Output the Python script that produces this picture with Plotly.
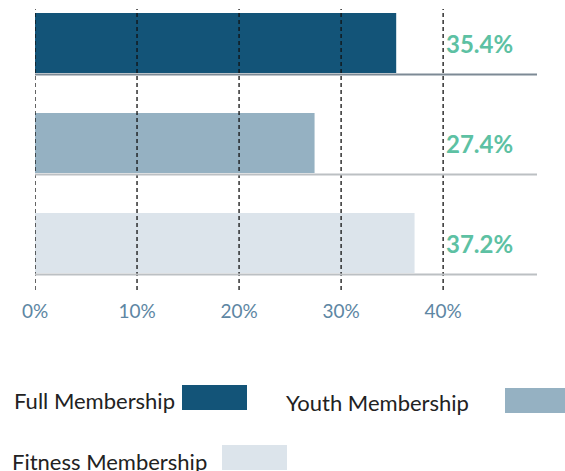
import plotly.graph_objects as go

categories = ["Full Membership", "Youth Membership", "Fitness Membership"]
values = [35.4, 27.4, 37.2]
colors = ["#135478", "#95b1c2", "#dce4eb"]
sep_colors = ["#7d8a95", "#bcc0c3", "#bcc0c3"]
tick_values = [0, 10, 20, 30, 40]
tick_labels = ["0%", "10%", "20%", "30%", "40%"]

W, H = 565, 471
L, R, T, B = 35, 28, 9, 181
FONT = "Lato"

def px(x):
    return (x - L) / (W - L - R)

def py(y):
    return (H - B - y) / (H - T - B)

pos = list(range(len(categories)))

fig = go.Figure()
for i, (c, v, col) in enumerate(zip(categories, values, colors)):
    fig.add_trace(go.Bar(
        x=[v], y=[pos[i]], orientation="h", width=0.6,
        marker=dict(color=col, line=dict(width=0)),
        name=c, showlegend=False, hoverinfo="x+name",
    ))

shapes = []
# vertical dashed gridlines above bars
for tv in tick_values:
    shapes.append(dict(type="line", xref="x", yref="paper", x0=tv, x1=tv, y0=0, y1=1,
                       line=dict(color="#111111", width=1.3, dash="4px,3px"), layer="above"))
# separator lines below each bar
for i in pos:
    shapes.append(dict(type="line", xref="paper", yref="y", x0=0, x1=1, y0=i + 0.315, y1=i + 0.315,
                       line=dict(color=sep_colors[i], width=2), layer="above"))

annotations = []
for i, v in enumerate(values):
    annotations.append(dict(x=40, y=pos[i], xref="x", yref="y", text=f"{v}%",
                            xanchor="left", yanchor="middle", xshift=1, showarrow=False,
                            font=dict(family=FONT, size=24, color="#5dc1a3", weight="bold")))

# custom legend: text followed by swatch
legend_items = [
    (12, 400, 182, 385),
    (284, 402, 505, 388),
    (10, 461, 222, 445),
]
for i, (tx, ty, sx, sy) in enumerate(legend_items):
    annotations.append(dict(x=px(tx), y=py(ty), xref="paper", yref="paper", text=categories[i],
                            xanchor="left", yanchor="middle", showarrow=False,
                            font=dict(family=FONT, size=22, color="#222222")))
    shapes.append(dict(type="rect", xref="paper", yref="paper",
                       x0=px(sx), x1=px(sx + 65), y0=py(sy + 25), y1=py(sy),
                       fillcolor=colors[i], line=dict(width=0)))

fig.update_layout(
    width=W, height=H,
    margin=dict(l=L, r=R, t=T, b=B),
    paper_bgcolor="white", plot_bgcolor="white",
    showlegend=False,
    barmode="overlay",
    shapes=shapes, annotations=annotations,
    xaxis=dict(range=[0, 49.2], tickvals=tick_values, ticktext=tick_labels,
               showgrid=False, zeroline=False, showline=False, ticks="",
               tickfont=dict(family=FONT, size=19, color="#5d86a3"),
               ticklabelstandoff=8, fixedrange=True),
    yaxis=dict(range=[2.47, -0.34], showticklabels=False, showgrid=False,
               zeroline=False, showline=False, ticks="", fixedrange=True),
)

fig.write_html("out.html", config={"displayModeBar": False},
               post_script="document.body.style.margin='0';document.body.style.overflow='hidden';")
